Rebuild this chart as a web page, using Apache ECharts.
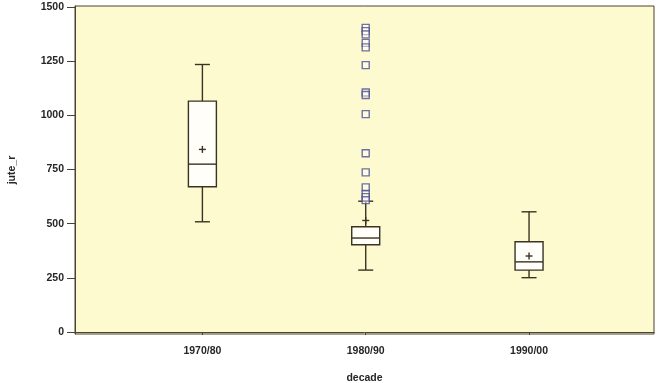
<!DOCTYPE html>
<html>
<head>
<meta charset="utf-8">
<script src="https://cdn.jsdelivr.net/npm/echarts@6/dist/echarts.min.js"></script>
<style>
html,body{margin:0;padding:0;background:#ffffff;}
#chart{width:661px;height:383px;}
</style>
</head>
<body>
<div id="chart"></div>
<script>
var categories = ['1970/80', '1980/90', '1990/00'];
var whiskerLow = [509, 286, 251];
var q1 = [671, 403, 286];
var median = [775, 434, 324];
var q3 = [1066, 486, 417];
var whiskerHigh = [1235, 604, 555];
var means = [843, 515, 351];
var outlierCategory = '1980/90';
var outliers = [1404, 1389, 1374, 1335, 1314, 1232, 1106, 1094, 1006, 825, 737, 668, 637, 623, 609];
var yTicks = [0, 250, 500, 750, 1000, 1250, 1500];

var lineColor = '#3a3222';
var textColor = '#262626';

var boxData = categories.map(function (c, i) {
  return [i + 1, whiskerLow[i], q1[i], median[i], q3[i], whiskerHigh[i], means[i]];
});
var outlierData = outliers.map(function (v) {
  return [categories.indexOf(outlierCategory) + 1, v];
});

var chart = echarts.init(document.getElementById('chart'));
chart.setOption({
  animation: false,
  backgroundColor: '#ffffff',
  grid: {
    left: 75, top: 6, width: 579, height: 328,
    outerBoundsMode: 'none', containLabel: false,
    show: true, backgroundColor: '#fefad0', borderColor: '#4a4232', borderWidth: 1
  },
  xAxis: {
    type: 'value', min: 0.22, max: 3.765,
    name: 'decade', nameLocation: 'middle', nameGap: 39,
    nameTextStyle: { fontFamily: 'Liberation Sans', fontWeight: 'bold', fontSize: 10.5, color: textColor },
    axisLine: { show: true, lineStyle: { color: '#4a4232', width: 1 } },
    splitLine: { show: false },
    axisTick: { show: true, length: 3, customValues: [1, 2, 3], lineStyle: { color: '#4a4232' } },
    axisLabel: {
      customValues: [1, 2, 3], margin: 12,
      fontFamily: 'Liberation Sans', fontWeight: 'bold', fontSize: 10.5, color: textColor,
      formatter: function (v) { return categories[Math.round(v) - 1] || ''; }
    }
  },
  yAxis: {
    type: 'value', min: -9, max: 1505,
    name: 'jute_r', nameLocation: 'middle', nameGap: 57, nameRotate: 90,
    nameTextStyle: { fontFamily: 'Liberation Sans', fontWeight: 'bold', fontSize: 10.5, color: textColor },
    axisLine: { show: true, lineStyle: { color: '#4a4232', width: 1 } },
    splitLine: { show: false },
    axisTick: { show: true, length: 8, customValues: yTicks, lineStyle: { color: '#4a4232' } },
    axisLabel: {
      customValues: yTicks, margin: 11,
      fontFamily: 'Liberation Sans', fontWeight: 'bold', fontSize: 10.5, color: textColor,
      formatter: function (v) { return String(v); }
    }
  },
  series: [
    {
      type: 'custom',
      data: boxData,
      encode: { x: 0, y: [1, 2, 3, 4, 5, 6] },
      renderItem: function (params, api) {
        var x = api.value(0);
        var pLow = api.coord([x, api.value(1)]);
        var pQ1 = api.coord([x, api.value(2)]);
        var pMed = api.coord([x, api.value(3)]);
        var pQ3 = api.coord([x, api.value(4)]);
        var pHigh = api.coord([x, api.value(5)]);
        var pMean = api.coord([x, api.value(6)]);
        var cx = pQ1[0];
        var hw = 14, cw = 7.5, mw = 3.5;
        var ls = { stroke: lineColor, lineWidth: 1.4, fill: null };
        return {
          type: 'group',
          children: [
            { type: 'line', shape: { x1: cx, y1: pHigh[1], x2: cx, y2: pQ3[1] }, style: ls },
            { type: 'line', shape: { x1: cx, y1: pQ1[1], x2: cx, y2: pLow[1] }, style: ls },
            { type: 'line', shape: { x1: cx - cw, y1: pHigh[1], x2: cx + cw, y2: pHigh[1] }, style: ls },
            { type: 'line', shape: { x1: cx - cw, y1: pLow[1], x2: cx + cw, y2: pLow[1] }, style: ls },
            { type: 'rect', shape: { x: cx - hw, y: pQ3[1], width: hw * 2, height: pQ1[1] - pQ3[1] },
              style: { fill: '#fffef8', stroke: lineColor, lineWidth: 1.4 } },
            { type: 'line', shape: { x1: cx - hw, y1: pMed[1], x2: cx + hw, y2: pMed[1] }, style: ls },
            { type: 'line', shape: { x1: cx - mw, y1: pMean[1], x2: cx + mw, y2: pMean[1] }, style: ls },
            { type: 'line', shape: { x1: cx, y1: pMean[1] - mw, x2: cx, y2: pMean[1] + mw }, style: ls }
          ]
        };
      },
      z: 3
    },
    {
      type: 'scatter',
      data: outlierData,
      symbol: 'rect',
      symbolSize: 7,
      itemStyle: { color: 'rgba(255,255,250,0.6)', borderColor: '#4e4e90', borderWidth: 1.4 },
      z: 4
    }
  ]
});
</script>
</body>
</html>
